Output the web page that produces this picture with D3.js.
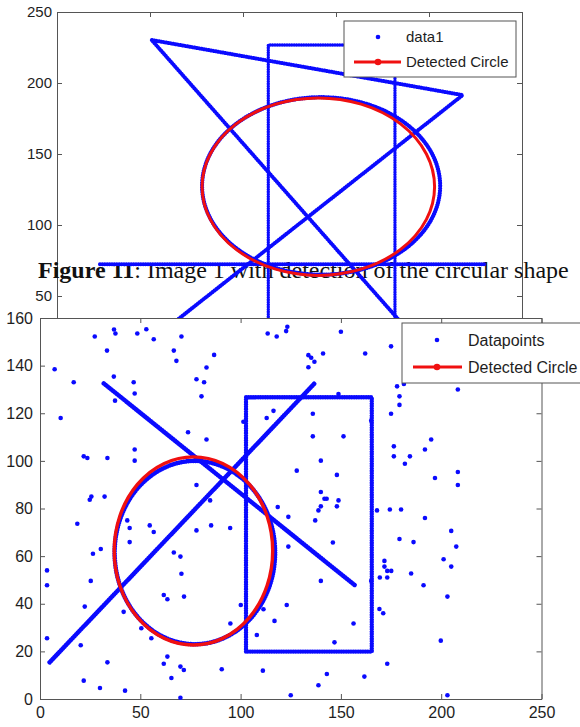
<!DOCTYPE html>
<html>
<head>
<meta charset="utf-8">
<script src="https://cdn.jsdelivr.net/npm/d3@7"></script>
<style>
  body { margin: 0; background: #fff; }
  svg { display: block; }
</style>
</head>
<body>
<svg id="chart" width="580" height="727"></svg>
<script>
// ---------- upper figure: line drawing with a fitted circle ----------
const upperXTicks = [0, 50, 100, 150, 200, 250];
const upperYTicks = [0, 50, 100, 150, 200, 250];
// polylines traced by the point data (x, y)
const upperHorizontal = [[23.1, 72.3], [229.6, 72.3]];
const upperTriangle = [[196, 15], [50.9, 230.3], [218.1, 191.5], [47, 15]];
const upperRectangle = [[113.6, 5], [113.6, 226.8], [181.7, 226.8], [181.7, 5]];
// point ring: centre x, centre y, radius x, radius y
const upperRing = [142, 127.5, 64, 62.5];
// detected circle: centre x, centre y, radius
const upperCircle = [140.5, 127, 62.5];
const upperLegend = ["data1", "Detected Circle"];

// ---------- lower figure: noisy points with a fitted circle ----------
const lowerXTicks = [0, 50, 100, 150, 200, 250];
const lowerYTicks = [0, 20, 40, 60, 80, 100, 120, 140, 160];
const lowerRising = [[4.8, 15.4], [136.8, 132.5]];
const lowerFalling = [[31.8, 132.5], [156.8, 47.9]];
const lowerRectangle = [[102.7, 19.9], [102.7, 126.7], [165.4, 126.7], [165.4, 19.9], [102.7, 19.9]];
const lowerRing = [77.2, 61.5, 40, 38.5];
const lowerCircle = [76.5, 62.2, 39.5];
const lowerLegend = ["Datapoints", "Detected Circle"];
// scattered noise points (x, y)
const noisePoints = [
  [36.9,155.2],[37.6,153.5],[27.3,152.2],[48.5,153.5],[53,155.3],[56.7,151.1],[70.5,152.2],
  [33.4,146.3],[66.7,146.3],[68,142],[7.3,138.5],[83,139.2],[16.8,133],[36.8,135.4],
  [46.7,133],[78,134.3],[81.8,133],[47.2,128.3],[80.5,127.1],[37.4,125.3],[10.3,118],
  [73.8,112],[83,109],[47.2,104.8],[47.2,100.1],[21.8,101.9],[23.6,101.2],[33.6,101.2],
  [78,89.9],[25.6,85],[24.8,83.7],[32.2,85],
  [113.5,153.5],[118,152.2],[122.7,154.5],[123.3,156.3],[150,154.2],[86.8,144.5],
  [133.8,144.4],[135.2,143.3],[136.8,141.6],[133.8,139.3],[141.1,145.1],[162.1,145.1],
  [148.8,128.1],[116.4,121],[113,118],[136,119.8],[101.4,116.4],[165.1,116.9],
  [136,110.3],[151.3,110.3],[140,100.1],[128,95.9],[148,94.1],[140,86.9],[141.8,84.1],
  [142.9,84.1],[148.8,83.4],[84.8,83.4],[118.5,80.6],
  [175,148.1],[178,131.3],[181.4,132.3],[179.2,127.1],[179.2,123.5],[175,119.8],
  [208.3,130],[176.4,106.1],[176.4,101.9],[184.4,101.9],[181.9,98.8],[195,109],
  [191.9,104.8],[196.9,92.8],[208.3,95.3],[208.3,89.9],
  [18.6,73.6],[43.5,75],[44.7,71.8],[54.7,72.9],[56.7,70.1],[44.7,65.9],[78,70.8],
  [30.3,63],[26.4,61],[66.7,61.5],[70,59.8],[70.5,52.6],[3.5,54],[3.5,47.8],[25.3,49.6],
  [22.3,38.8],[61.7,43.7],[63.5,41.9],[71.8,43],[41.7,36.6],[50.5,29.7],[55.5,25.5],
  [3.5,25.5],[20.3,22.6],[33.6,15.4],[61.7,14.8],[63.5,17.8],[70,13.6],[71.7,12.2],
  [65.5,8.8],[21.8,7.7],[29.9,4.6],[42.4,3.5],[70,0.5],
  [85.3,72.9],[94.8,71.8],[123.8,76.5],[137.2,75],[138.8,79.2],[140,80.9],[148,80.9],
  [146,65.7],[123.8,64],[140,49.6],[165.1,49.6],[123,39.5],[100.1,39.5],[111.4,37.7],
  [116.9,32.8],[94.9,31.7],[156.3,31.7],[108.1,26.9],[146.8,23.8],[90.6,12.5],
  [111.1,11.9],[143,10.5],[138.8,5.8],[161.7,9.4],[125,1.6],
  [168,79.2],[174.4,79.6],[180,79.6],[191.9,76],[205,70.6],[179.2,67.2],[186.2,65.9],
  [207.5,64],[201.2,58.7],[205,55.6],[171.7,58],[171.7,55.6],[173.1,53.8],[175.1,53.8],
  [169.4,51],[173.1,51],[185,52.7],[191.2,47.8],[203.1,43],[169.2,37.8],[171.1,36],
  [199.8,24.5],[173.1,14.8],[203.1,1.6]
];

const BLUE = "#0a0aff", RED = "#f01010", AXIS = "#555", TEXT = "#1e1e1e";
const SANS = "'Liberation Sans', Arial, sans-serif";
const svg = d3.select("#chart");

function styleAxis(g, size) {
  g.selectAll(".domain").attr("stroke", AXIS).attr("stroke-width", 1);
  g.selectAll(".tick line").attr("stroke", AXIS).attr("stroke-width", 1);
  g.selectAll(".tick text").attr("fill", TEXT).style("font-family", SANS).style("font-size", size + "px");
}

function beadPath(g, xs, ys, pts, width) {
  g.append("path")
    .attr("d", d3.line().x(d => xs(d[0])).y(d => ys(d[1]))(pts))
    .attr("fill", "none").attr("stroke", BLUE).attr("stroke-width", width)
    .attr("stroke-linecap", "round").attr("stroke-linejoin", "round")
    .attr("stroke-dasharray", "0.1 2.3");
}

function beadRing(g, xs, ys, ring, width) {
  g.append("ellipse")
    .attr("cx", xs(ring[0])).attr("cy", ys(ring[1]))
    .attr("rx", xs(ring[0] + ring[2]) - xs(ring[0]))
    .attr("ry", ys(ring[1]) - ys(ring[1] + ring[3]))
    .attr("fill", "none").attr("stroke", BLUE).attr("stroke-width", width)
    .attr("stroke-linecap", "round").attr("stroke-dasharray", "0.1 2.3");
}

function fittedCircle(g, xs, ys, c, width) {
  g.append("ellipse")
    .attr("cx", xs(c[0])).attr("cy", ys(c[1]))
    .attr("rx", xs(c[0] + c[2]) - xs(c[0]))
    .attr("ry", ys(c[1]) - ys(c[1] + c[2]))
    .attr("fill", "none").attr("stroke", RED).attr("stroke-width", width);
}

function legend(g, x, y, w, h, labels, fs, dotX, lineX0, lineX1, textX, row1, row2) {
  g.append("rect").attr("x", x).attr("y", y).attr("width", w).attr("height", h)
    .attr("fill", "#fff").attr("stroke", AXIS).attr("stroke-width", 1);
  g.append("circle").attr("cx", dotX).attr("cy", row1).attr("r", 2.3).attr("fill", BLUE);
  g.append("line").attr("x1", lineX0).attr("x2", lineX1).attr("y1", row2).attr("y2", row2)
    .attr("stroke", RED).attr("stroke-width", 3.2);
  g.append("circle").attr("cx", dotX).attr("cy", row2).attr("r", 3.3).attr("fill", RED);
  [row1, row2].forEach((ry, i) => {
    g.append("text").attr("x", textX).attr("y", ry).attr("dy", "0.35em")
      .attr("fill", TEXT).style("font-family", SANS).style("font-size", fs + "px")
      .text(labels[i]);
  });
}

// ===== upper figure =====
const ux = d3.scaleLinear().domain([0, 250]).range([57, 522]);
const uy = d3.scaleLinear().domain([0, 250]).range([367, 12]);

svg.append("clipPath").attr("id", "upperClip")
  .append("rect").attr("x", 0).attr("y", 0).attr("width", 580).attr("height", 318);
const upper = svg.append("g").attr("clip-path", "url(#upperClip)");

upper.append("g").attr("transform", "translate(57,0)")
  .call(d3.axisLeft(uy).tickValues(upperYTicks).tickSizeInner(-5).tickSizeOuter(0).tickPadding(5))
  .call(g => styleAxis(g, 15));
upper.append("g").attr("transform", "translate(522,0)")
  .call(d3.axisRight(uy).tickValues(upperYTicks).tickSizeInner(-5).tickSizeOuter(0).tickFormat(""))
  .call(g => styleAxis(g, 15));
upper.append("g").attr("transform", "translate(0,12)")
  .call(d3.axisTop(ux).tickValues(upperXTicks).tickSizeInner(-5).tickSizeOuter(0).tickFormat(""))
  .call(g => styleAxis(g, 15));

// caption sits between the two figures, beneath the upper marks
const caption = upper.append("text").attr("x", 38).attr("y", 278)
  .attr("fill", "#111").style("font-family", "'Liberation Serif', 'Times New Roman', serif")
  .style("font-size", "24px");
caption.append("tspan").attr("font-weight", "bold").text("Figure 11");
caption.append("tspan").text(": Image 1 with detection of the circular shape");

beadPath(upper, ux, uy, upperRectangle, 3.4);
beadPath(upper, ux, uy, upperHorizontal, 4);
beadPath(upper, ux, uy, upperTriangle, 4);
beadRing(upper, ux, uy, upperRing, 4.2);
fittedCircle(upper, ux, uy, upperCircle, 3);

legend(upper, 344, 21, 172, 56, upperLegend, 15, 378, 354, 401, 406, 37, 62);

// ===== lower figure =====
const lx = d3.scaleLinear().domain([0, 250]).range([40, 541.5]);
const ly = d3.scaleLinear().domain([0, 160]).range([699, 318]);

const lower = svg.append("g");
lower.append("rect").attr("x", 0).attr("y", 318).attr("width", 580).attr("height", 409).attr("fill", "#fff");

lower.append("g").attr("transform", "translate(40,0)")
  .call(d3.axisLeft(ly).tickValues(lowerYTicks).tickSizeInner(-5).tickSizeOuter(0).tickPadding(7))
  .call(g => styleAxis(g, 16));
lower.append("g").attr("transform", "translate(541.5,0)")
  .call(d3.axisRight(ly).tickValues(lowerYTicks).tickSizeInner(-5).tickSizeOuter(0).tickFormat(""))
  .call(g => styleAxis(g, 16));
lower.append("g").attr("transform", "translate(0,699)")
  .call(d3.axisBottom(lx).tickValues(lowerXTicks).tickSizeInner(-5).tickSizeOuter(0).tickPadding(8))
  .call(g => styleAxis(g, 16));
lower.append("g").attr("transform", "translate(0,318)")
  .call(d3.axisTop(lx).tickValues(lowerXTicks).tickSizeInner(-5).tickSizeOuter(0).tickFormat(""))
  .call(g => styleAxis(g, 16));

beadPath(lower, lx, ly, lowerRectangle, 4.4);
beadPath(lower, lx, ly, lowerRising, 4.6);
beadPath(lower, lx, ly, lowerFalling, 4.6);
beadRing(lower, lx, ly, lowerRing, 4.6);

lower.append("g").selectAll("circle").data(noisePoints).join("circle")
  .attr("cx", d => lx(d[0])).attr("cy", d => ly(d[1])).attr("r", 2.3).attr("fill", BLUE);

fittedCircle(lower, lx, ly, lowerCircle, 3.4);

legend(lower, 402, 323, 182, 60, lowerLegend, 16, 437, 413, 462, 468, 340, 367);
</script>
</body>
</html>
